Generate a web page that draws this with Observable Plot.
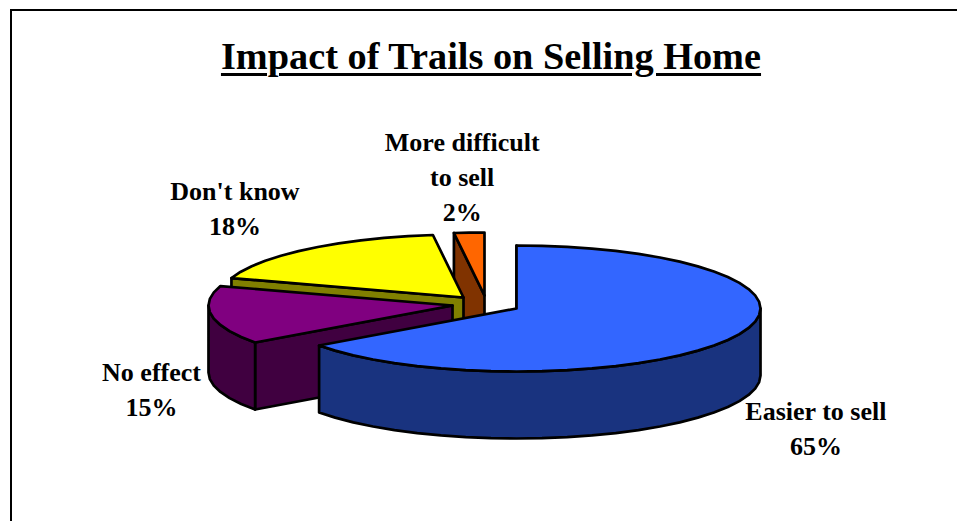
<!DOCTYPE html>
<html>
<head>
<meta charset="utf-8">
<script src="https://cdn.jsdelivr.net/npm/d3@7"></script>
<script src="https://cdn.jsdelivr.net/npm/@observablehq/plot@0.6"></script>
<style>
  html, body { margin: 0; background: #fff; overflow: hidden; }
  #page { position: relative; width: 957px; height: 521px; }
  #frame { position: absolute; left: 10px; top: 9px; right: 0; bottom: 0;
           border-left: 2px solid #000; border-top: 2px solid #000; pointer-events: none; }
  h1 { margin: 0; height: 85px; box-sizing: border-box; padding-top: 33px; padding-left: 25px;
       text-align: center; font: bold 38.3px/46px "Liberation Serif", serif; color: #000;
       text-decoration: underline; text-decoration-thickness: 3px; text-underline-offset: 4px; }
  svg { display: block; }
</style>
</head>
<body>
<div id="page">
  <div id="frame"></div>
  <h1>Impact of Trails on Selling Home</h1>
  <div id="chart"></div>
</div>
<script>
// Survey shares, clockwise from twelve o'clock
const categories = ["Easier to sell", "No effect", "Don't know", "More difficult\nto sell"];
const shares = [65, 15, 18, 2];

// Slice colours: top surface and shaded side
const topFills = ["#3366ff", "#800080", "#ffff00", "#ff6600"];
const sideFills = ["#19337f", "#400040", "#808000", "#803300"];

// Pie projection: exploded apex of each slice, ellipse radii and extrusion depth
const apexX = [516, 452, 463, 484];
const apexY = [308, 305, 297, 295];
const radiusX = 244;
const radiusY = 63;
const depth = 67;

// Label offsets from the slice's rim at its middle angle
const labelDx = [82, -60, -73, -7];
const labelDy = [89, 72, -43, -58];

const rad = (deg) => (deg * Math.PI) / 180;
const rimPoint = (i, deg, drop = 0) => [
  apexX[i] + radiusX * Math.sin(rad(deg)),
  apexY[i] - radiusY * Math.cos(rad(deg)) + drop
];
const arc = (i, from, to, drop = 0) => {
  const steps = Math.max(2, Math.ceil(Math.abs(to - from) / 6));
  return d3.range(steps + 1).map((k) => rimPoint(i, from + ((to - from) * k) / steps, drop));
};

// Cumulative angle at which each slice starts and ends
const ends = d3.cumsum(shares).map((v) => (v * 360) / d3.sum(shares));
const starts = ends.map((_, i) => (i ? ends[i - 1] : 0));

// Back-to-front painting order: the large front slice goes last
const paintOrder = [3, 2, 1, 0];
const faces = [];
const addFace = (id, fill, points) => {
  [...points, points[0]].forEach(([x, y]) => faces.push({ id, fill, x, y }));
};
for (const i of paintOrder) {
  const apex = [apexX[i], apexY[i]];
  const edge = rimPoint(i, starts[i]);
  // Cut face exposed along the slice's leading radius
  addFace(`cut-${i}`, sideFills[i], [
    apex, edge, [edge[0], edge[1] + depth], [apex[0], apex[1] + depth]
  ]);
  // Outer wall, only where the rim faces the viewer
  const wallFrom = Math.max(starts[i], 90);
  const wallTo = Math.min(ends[i], 270);
  if (wallFrom < wallTo) {
    addFace(`wall-${i}`, sideFills[i], [
      ...arc(i, wallFrom, wallTo),
      ...arc(i, wallTo, wallFrom, depth)
    ]);
  }
  // Top surface
  addFace(`top-${i}`, topFills[i], [apex, ...arc(i, starts[i], ends[i])]);
}

const labels = categories.map((name, i) => {
  const [x, y] = rimPoint(i, (starts[i] + ends[i]) / 2);
  return { text: `${name}\n${shares[i]}%`, x: x + labelDx[i], y: y + labelDy[i] };
});

const chart = Plot.plot({
  width: 957,
  height: 436,
  margin: 0,
  x: { domain: [0, 957], range: [0, 957], axis: null },
  y: { domain: [85, 521], range: [0, 436], axis: null },
  marks: [
    Plot.line(faces, {
      x: "x", y: "y", z: "id", fill: "fill",
      stroke: "#000", strokeWidth: 2.7, strokeLinejoin: "round", curve: "linear"
    }),
    Plot.text(labels, {
      x: "x", y: "y", text: "text", fill: "#000",
      fontFamily: "Liberation Serif", fontWeight: "bold", fontSize: 26, lineHeight: 1.35
    })
  ]
});
document.getElementById("chart").append(chart);
</script>
</body>
</html>
